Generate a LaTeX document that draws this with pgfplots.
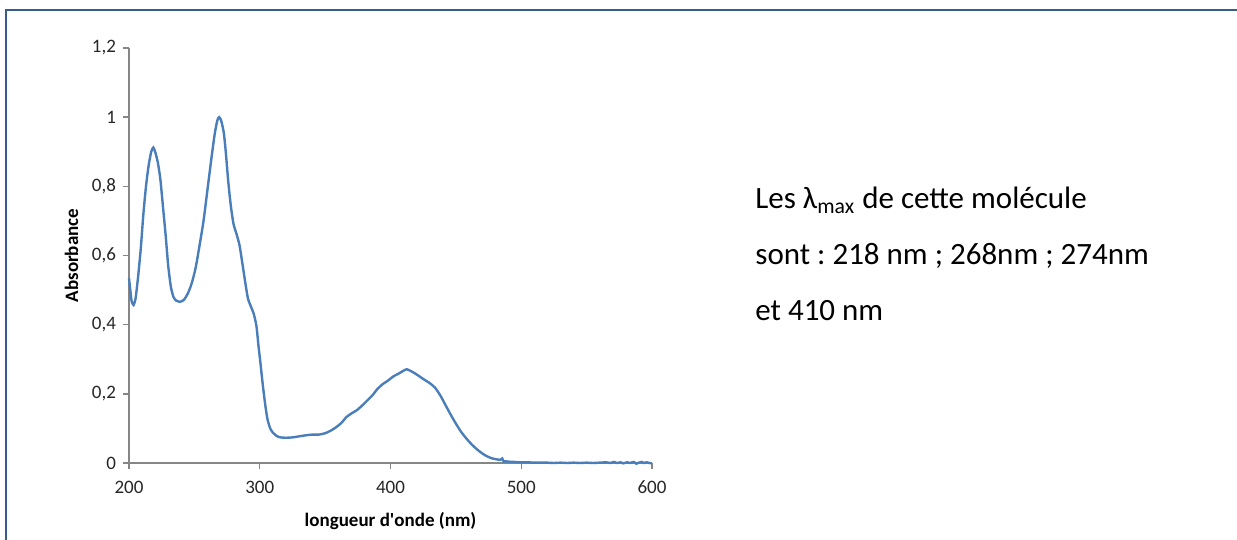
\documentclass[border=0pt]{standalone}
\usepackage{fontspec}
\setmainfont{Carlito}
\usepackage{pgfplots}
\pgfplotsset{compat=1.18}
\definecolor{frameblue}{RGB}{56,93,138}
\definecolor{axgray}{RGB}{134,134,134}
\definecolor{lineblue}{RGB}{74,126,187}
\frenchspacing
\begin{document}
\begin{tikzpicture}
\useasboundingbox (0,0) rectangle (618.5pt,270pt);
\draw[frameblue, line width=1.1pt] (3pt,0) -- (3pt,265pt) -- (618.5pt,265pt);
\begin{axis}[
  at={(64.5pt,38.5pt)}, anchor=south west,
  scale only axis, width=261.5pt, height=207.5pt,
  xmin=200, xmax=600, ymin=0, ymax=1.2,
  axis x line*=bottom, axis y line*=left,
  axis line style={axgray, line width=0.7pt},
  every tick/.style={axgray, line width=0.7pt},
  tick align=outside, major tick length=3pt,
  xtick={200,300,400,500,600},
  ytick={0,0.2,0.4,0.6,0.8,1,1.2},
  /pgf/number format/.cd, use comma, assume math mode=true, 1000 sep={},
  /pgfplots/.cd,
  tick label style={font=\fontsize{9.5}{11}\selectfont, text=black!85},
  xticklabel style={yshift=-2.5pt},
  xlabel={longueur d\textquotesingle onde (nm)}, ylabel={Absorbance},
  label style={font=\fontsize{9.5}{11}\selectfont\bfseries},
  xlabel style={yshift=-2.5pt},
  clip=false,
]
\addplot[lineblue, line width=1.2pt, smooth, tension=0.4] coordinates {
(200,0.534) (201,0.50) (202,0.468) (203.5,0.457) (205,0.475) (207,0.54)
(209,0.62) (211,0.72) (213,0.80) (215,0.86) (217,0.90) (218.6,0.912)
(220,0.90) (222,0.87) (224,0.82) (226,0.74) (228,0.66) (230,0.57)
(232,0.51) (234,0.48) (236,0.47) (239,0.466) (242,0.472) (245,0.49)
(248,0.52) (251,0.565) (254,0.63) (257,0.70) (260,0.79) (263,0.88)
(265.5,0.95) (267.5,0.99) (269,1.0) (270.5,0.99) (272.5,0.955) (274,0.90)
(276,0.81) (278,0.74) (280,0.69) (282,0.665) (284.5,0.63) (287,0.57)
(289,0.52) (291,0.475) (293,0.455) (295.5,0.43) (297.5,0.395) (299,0.34)
(300.5,0.29) (302.5,0.22) (304.5,0.16) (306,0.125) (308,0.10) (310,0.088)
(313,0.078) (316,0.074) (320,0.073) (325,0.074) (330,0.077) (335,0.080)
(340,0.082) (345,0.082) (350,0.086) (355,0.095) (359,0.105) (363,0.118)
(366,0.132) (370,0.143) (374,0.152) (378,0.165) (382,0.18) (386,0.195)
(390,0.214) (394,0.228) (398,0.238) (402,0.25) (406,0.258) (410,0.267)
(412.5,0.271) (416,0.265) (420,0.256) (425,0.243) (430,0.231) (434,0.218)
(438,0.196) (442,0.168) (446,0.14) (450,0.114) (454,0.090) (458,0.071)
(462,0.054) (466,0.040) (470,0.028) (474,0.019) (478,0.013) (482,0.010)
(484,0.009) (485.5,0.013) (486.5,0.004) (488,0.005) (490,0.004) (495,0.003)
(500,0.002) (505,0.002) (510,0.001) (515,0.001) (520,0.001) (525,0.000)
(530,0.001) (535,0.000) (540,0.001) (545,0.000) (550,0.001) (555,0.000)
(560,0.001) (565,0.002) (568,0.000) (571,0.003) (573,0.000) (576,0.002)
(578,-0.001) (581,0.002) (583,0.000) (586,0.003) (588,-0.002) (590,0.001)
(592,0.003) (594,0.000) (596,0.002) (598,0.000) (600,-0.001)
};
\end{axis}
\node[anchor=base west, font=\fontsize{15.5}{18}\selectfont, inner sep=0pt] at (377.5pt,165.5pt) {Les λ\textsubscript{max} de cette molécule};
\node[anchor=base west, font=\fontsize{15.5}{18}\selectfont, inner sep=0pt] at (377.5pt,137.5pt) {sont : 218 nm ; 268nm ; 274nm};
\node[anchor=base west, font=\fontsize{15.5}{18}\selectfont, inner sep=0pt] at (377.5pt,109.5pt) {et 410 nm};
\end{tikzpicture}
\end{document}
